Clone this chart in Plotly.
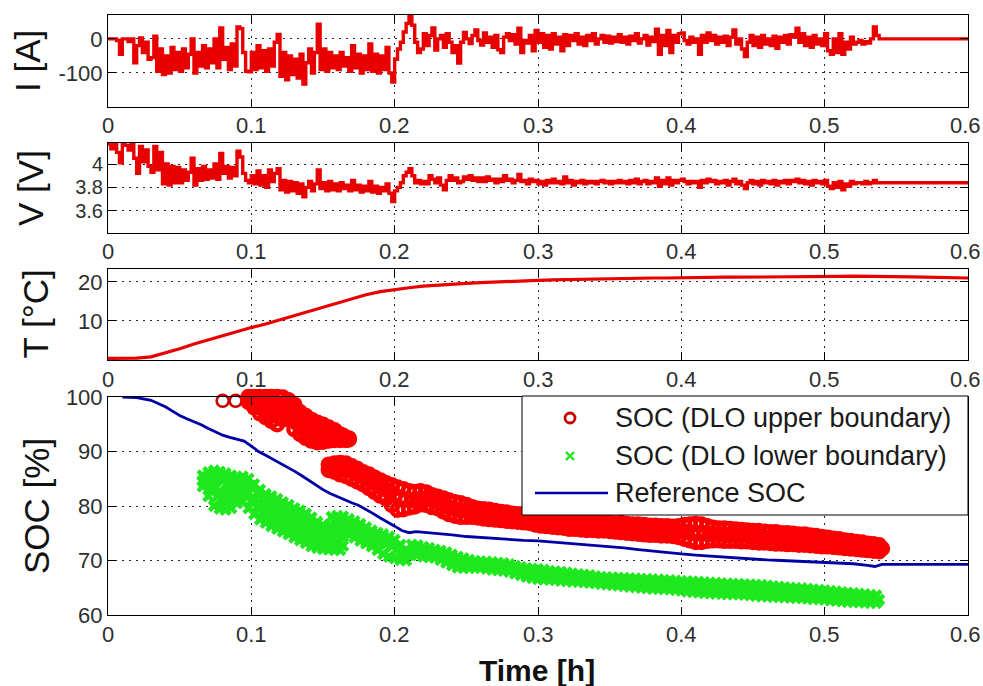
import numpy as np
import plotly.graph_objects as go

# ---------------------------------------------------------------- data
T_RANGE = [0.0, 0.6]
X_TICKS = [0.0, 0.1, 0.2, 0.3, 0.4, 0.5, 0.6]
X_TICK_TEXT = ["0", "0.1", "0.2", "0.3", "0.4", "0.5", "0.6"]

# Current and terminal voltage, sampled every 0.002 h
IV_STEP_H = 0.002
CURRENT_A = [
    0, 0, 0, -5, -45, 0, 0, -8, 0, -70,
    -20, 3, -40, -10, -60, -55, 8, -95, -30, -105,
    -50, -100, -25, -90, -40, -95, -30, -85, -45, 0,
    -100, -40, -80, -20, -85, -30, -70, 0, -85, 32,
    -60, -25, -90, -15, -80, 35, 30, -40, -95, -97,
    -40, -90, -20, -85, -35, -95, -30, -80, -10, 13,
    -110, -40, -120, -50, -105, -60, -115, -45, -133, -70,
    -30, -100, -40, 43, -90, -30, -95, -40, -85, -50,
    -90, -40, -80, -55, -95, -20, -85, -45, -100, -50,
    -90, -15, -95, -45, -100, -50, -90, -25, -100, -127,
    -60, -30, -10, 20, 45, 70, 40, -10, -40, -30,
    15, -20, 10, 32, -33, 0, 10, -25, 15, -10,
    -40, -20, -71, -10, 19, 0, -14, 10, 26, -5,
    -18, 17, -10, 5, -25, 10, -32, -40, 5, 15,
    -5, 12, -15, 31, -40, -5, -12, 10, -35, 25,
    -10, 15, -25, 10, -30, 15, -15, 5, -35, 12,
    -20, 10, -5, 15, -15, 5, -20, 10, -5, 15,
    -15, 0, 10, -10, 8, -12, 5, -8, 12, -10,
    5, -15, 8, -5, 15, -12, 0, 10, -18, 5,
    -8, 28, -45, 10, -20, 25, -40, 10, -10, 15,
    17, -5, -15, 5, -10, 0, -45, 10, -10, 17,
    -5, 10, -15, 5, -10, 8, -20, 5, 26, -15,
    0, -30, -52, -10, 10, -20, 5, -25, 10, -15,
    0, -20, 8, -28, 5, -10, 10, -15, 12, 5,
    31, -10, 15, -20, 5, -25, 10, -15, 0, -20,
    15, -35, -45, 0, -40, 15, -45, -10, -30, 5,
    -15, -10, -5, -15, -8, -12, 0, 35, 10, 0,
]
CURRENT_REST_A = 0

VOLTAGE_V = [
    4.17, 4.13, 4.17, 4.10, 4.01, 4.17, 4.16, 4.12, 4.17, 4.05,
    3.92, 4.15, 4.02, 4.12, 3.98, 3.93, 4.15, 3.95, 4.10, 3.83,
    4.00, 3.82, 3.98, 3.84, 3.97, 3.84, 3.95, 3.86, 3.93, 4.05,
    3.82, 3.96, 3.86, 3.98, 3.87, 3.95, 3.88, 4.00, 3.87, 4.09,
    3.92, 3.98, 3.88, 3.97, 3.90, 4.11, 4.06, 3.92, 3.86, 3.84,
    3.90, 3.83, 3.94, 3.82, 3.90, 3.80, 3.95, 3.85, 3.92, 3.96,
    3.78, 3.86, 3.76, 3.85, 3.77, 3.84, 3.75, 3.83, 3.72, 3.80,
    3.85, 3.77, 3.83, 3.95, 3.79, 3.84, 3.77, 3.85, 3.78, 3.83,
    3.77, 3.84, 3.79, 3.82, 3.77, 3.86, 3.78, 3.82, 3.76, 3.81,
    3.77, 3.85, 3.76, 3.81, 3.75, 3.80, 3.77, 3.83, 3.75, 3.68,
    3.77, 3.80, 3.84, 3.90, 3.93, 3.96, 3.90, 3.84, 3.86, 3.83,
    3.85, 3.83, 3.90, 3.87, 3.84, 3.88, 3.82, 3.78, 3.86, 3.90,
    3.86, 3.88, 3.84, 3.85, 3.89, 3.87, 3.90, 3.86, 3.88, 3.85,
    3.88, 3.85, 3.89, 3.86, 3.87, 3.84, 3.87, 3.85, 3.90, 3.86,
    3.87, 3.84, 3.86, 3.91, 3.85, 3.86, 3.83, 3.87, 3.85, 3.86,
    3.83, 3.85, 3.82, 3.86, 3.84, 3.87, 3.84, 3.85, 3.83, 3.89,
    3.84, 3.86, 3.82, 3.85, 3.84, 3.86, 3.83, 3.85, 3.84, 3.85,
    3.83, 3.85, 3.86, 3.84, 3.85, 3.83, 3.85, 3.84, 3.86, 3.84,
    3.85, 3.83, 3.86, 3.84, 3.87, 3.83, 3.85, 3.86, 3.83, 3.85,
    3.84, 3.88, 3.81, 3.86, 3.83, 3.88, 3.82, 3.86, 3.84, 3.86,
    3.87, 3.85, 3.83, 3.85, 3.84, 3.85, 3.80, 3.86, 3.84, 3.87,
    3.85, 3.86, 3.83, 3.85, 3.84, 3.86, 3.82, 3.85, 3.87, 3.83,
    3.85, 3.82, 3.79, 3.84, 3.86, 3.83, 3.85, 3.82, 3.86, 3.84,
    3.85, 3.83, 3.86, 3.82, 3.85, 3.84, 3.86, 3.83, 3.86, 3.85,
    3.87, 3.84, 3.86, 3.83, 3.85, 3.82, 3.86, 3.84, 3.85, 3.83,
    3.86, 3.81, 3.79, 3.84, 3.80, 3.85, 3.78, 3.83, 3.81, 3.85,
    3.83, 3.84, 3.84, 3.83, 3.85, 3.83, 3.84, 3.86, 3.84, 3.84,
]
VOLTAGE_REST_V = 3.84

# Cell temperature, every 0.01 h
TEMP_STEP_H = 0.01
TEMP_C = [
    0.4, 0.4, 0.5, 0.8, 1.8, 2.9, 4.1, 5.2, 6.3, 7.3,
    8.3, 9.2, 10.3, 11.4, 12.5, 13.6, 14.7, 15.8, 16.7, 17.5,
    18.1, 18.5, 18.9, 19.2, 19.4, 19.6, 19.8, 20.0, 20.2, 20.3,
    20.4, 20.5, 20.6, 20.7, 20.8, 20.8, 20.9, 20.9, 21.0, 21.0,
    21.1, 21.1, 21.1, 21.2, 21.2, 21.2, 21.3, 21.3, 21.3, 21.4,
    21.4, 21.4, 21.5, 21.5, 21.5, 21.4, 21.3, 21.2, 21.1, 21.0,
    21.0,
]

# Reference state of charge
SOC_REF_T = [
    0.010, 0.020, 0.030, 0.035, 0.040, 0.045, 0.050, 0.055, 0.060, 0.065,
    0.070, 0.075, 0.080, 0.085, 0.090, 0.095, 0.100, 0.105, 0.110, 0.115,
    0.120, 0.125, 0.130, 0.135, 0.140, 0.145, 0.150, 0.155, 0.160, 0.165,
    0.170, 0.175, 0.180, 0.185, 0.190, 0.195, 0.200, 0.205, 0.210, 0.215,
    0.220, 0.230, 0.240, 0.250, 0.260, 0.270, 0.280, 0.290, 0.300, 0.310,
    0.320, 0.330, 0.340, 0.350, 0.360, 0.370, 0.380, 0.390, 0.400, 0.410,
    0.420, 0.430, 0.440, 0.450, 0.460, 0.470, 0.480, 0.490, 0.500, 0.510,
    0.520, 0.530, 0.535, 0.540, 0.600,
]
SOC_REF = [
    100.0, 99.9, 99.4, 98.8, 98.2, 97.4, 96.6, 96.0, 95.5, 94.9,
    94.2, 93.6, 93.0, 92.6, 92.3, 91.9, 91.0, 90.0, 89.3, 88.6,
    87.9, 87.2, 86.4, 85.6, 84.7, 83.8, 83.0, 82.3, 81.7, 81.2,
    80.6, 80.1, 79.4, 78.6, 77.8, 77.1, 76.3, 75.5, 75.1, 75.3,
    75.2, 75.0, 74.7, 74.4, 74.2, 74.0, 73.8, 73.7, 73.6, 73.4,
    73.2, 73.0, 72.8, 72.6, 72.3, 72.0, 71.7, 71.4, 71.2, 71.0,
    70.8, 70.6, 70.4, 70.3, 70.1, 70.0, 69.9, 69.8, 69.7, 69.5,
    69.4, 69.1, 68.9, 69.3, 69.3,
]

# DLO estimates, sampled every 0.004 h. Each segment holds several sample
# runs spanning the spread of the estimate (top run first, bottom run last);
# every second run is taken half a step later.
DLO_STEP_H = 0.004

SOC_UP_EARLY_T = [0.080, 0.089]
SOC_UP_EARLY = [99.3, 99.3]

SOC_UP_A_T0 = 0.098
SOC_UP_A_RUNS = [
    [100, 100, 100, 100, 100, 100, 99.9, 99.4, 98.6, 97.2,
     96.5, 95.8, 95.3, 94.9, 94.4, 93.9, 93.1, 92.5],
    [99.8, 99.6, 99.3, 99.1, 98.9, 98.7, 98.8, 98.6, 97.5, 96.2,
     95.5, 94.9, 94.4, 94.1, 93.7, 93.4, 92.9, 92.4],
    [99.6, 99.2, 98.6, 98.2, 97.8, 97.4, 97.8, 97.9, 96.4, 95.2,
     94.6, 93.9, 93.5, 93.3, 93.1, 93.0, 92.6, 92.3],
    [99.3, 98.6, 97.8, 97.2, 96.7, 96.2, 96.8, 97.0, 95.2, 94.2,
     93.5, 92.9, 92.6, 92.5, 92.5, 92.5, 92.3, 92.2],
    [99.1, 98.1, 97.0, 96.3, 95.6, 95.0, 95.9, 96.2, 94.1, 93.2,
     92.5, 92.0, 91.7, 91.8, 92.0, 92.1, 92.1, 92.1],
]

SOC_UP_B_T0 = 0.154
SOC_UP_B_RUNS = [
    [87.6, 87.8, 87.9, 87.8, 87.3, 86.8, 86.2, 85.8, 85.2, 84.7,
     84.2, 83.8, 83.4, 83.1, 82.7, 82.6, 82.7, 82.5, 82.0, 81.7,
     81.4, 81.0, 80.7, 80.5, 80.2, 79.8, 79.5, 79.4, 79.3, 79.1,
     78.9, 78.8, 78.6, 78.5, 78.4, 78.2, 78.0, 77.7, 77.6, 77.7,
     77.6, 77.5, 77.4, 77.3, 77.4, 77.2, 77.1, 77.0, 76.9, 76.9,
     76.8, 76.9, 76.7, 76.6, 76.6, 76.5, 76.4, 76.4, 76.3, 76.3,
     76.2, 76.3, 76.5, 76.6, 76.7, 76.6, 76.3, 76.0, 75.9, 75.9,
     75.8, 75.7, 75.6, 75.5, 75.4, 75.4, 75.3, 75.2, 75.2, 75.0,
     75.0, 74.9, 74.8, 74.8, 74.6, 74.5, 74.3, 74.2, 74.0, 73.9,
     73.7, 73.6, 73.4, 73.3, 73.1, 73.0, 72.8],
    [87.1, 87.0, 86.8, 86.6, 86.1, 85.6, 85.1, 84.5, 83.9, 83.2,
     82.8, 82.0, 81.4, 81.2, 81.1, 81.2, 81.4, 81.3, 80.8, 80.6,
     80.0, 79.6, 79.3, 79.2, 79.0, 78.9, 78.7, 78.5, 78.4, 78.2,
     78.1, 78.0, 77.9, 77.8, 77.7, 77.5, 77.3, 77.1, 77.0, 77.0,
     76.9, 76.8, 76.6, 76.5, 76.5, 76.4, 76.3, 76.2, 76.2, 76.1,
     76.0, 76.0, 75.9, 75.8, 75.7, 75.6, 75.5, 75.5, 75.4, 75.4,
     75.3, 75.3, 75.2, 75.1, 75.0, 75.0, 74.9, 74.8, 74.8, 74.7,
     74.7, 74.6, 74.6, 74.5, 74.4, 74.3, 74.2, 74.2, 74.1, 74.0,
     73.9, 73.9, 73.8, 73.8, 73.7, 73.6, 73.5, 73.4, 73.2, 73.1,
     73.0, 72.9, 72.7, 72.6, 72.4, 72.3, 72.2],
    [86.6, 86.3, 85.8, 85.5, 85.0, 84.5, 84.0, 83.3, 82.6, 81.9,
     81.4, 80.2, 79.3, 79.4, 79.7, 79.9, 80.3, 80.2, 79.8, 79.6,
     79.0, 78.5, 78.2, 78.0, 78.0, 78.0, 77.9, 77.7, 77.6, 77.5,
     77.4, 77.3, 77.2, 77.1, 77.0, 76.9, 76.6, 76.4, 76.3, 76.2,
     76.1, 76.0, 75.8, 75.8, 75.7, 75.6, 75.6, 75.5, 75.5, 75.4,
     75.3, 75.2, 75.1, 75.0, 74.9, 74.8, 74.7, 74.7, 74.6, 74.6,
     74.5, 74.3, 74.0, 73.7, 73.4, 73.4, 73.6, 73.7, 73.7, 73.6,
     73.6, 73.6, 73.5, 73.5, 73.4, 73.3, 73.3, 73.2, 73.1, 73.1,
     73.0, 73.0, 72.9, 72.9, 72.8, 72.7, 72.6, 72.6, 72.5, 72.4,
     72.3, 72.2, 72.1, 72.0, 71.9, 71.8, 71.7],
]

SOC_LO_A_T0 = 0.066
SOC_LO_A_RUNS = [
    [85.6, 86.2, 86.5, 86.3, 86.0, 85.6, 85.3, 85.4, 85.0, 84.0,
     83.0, 82.2, 81.8, 81.3, 80.7, 80.2, 79.6, 79.2, 78.6, 77.9,
     77.1, 76.5, 76.0, 75.6, 75.2],
    [85.1, 85.2, 84.8, 84.6, 84.2, 84.0, 84.2, 84.1, 83.7, 82.5,
     81.6, 80.9, 80.3, 79.9, 79.4, 78.8, 78.2, 77.8, 77.2, 76.6,
     75.9, 75.4, 75.0, 74.7, 74.4],
    [84.6, 84.0, 83.3, 82.8, 82.6, 82.6, 82.9, 83.0, 82.3, 81.2,
     80.3, 79.5, 79.0, 78.5, 78.0, 77.5, 76.9, 76.4, 75.9, 75.2,
     74.7, 74.3, 74.0, 73.7, 73.5],
    [84.1, 82.9, 81.7, 81.1, 81.0, 81.1, 81.7, 81.9, 81.0, 79.9,
     78.9, 78.2, 77.7, 77.2, 76.7, 76.2, 75.6, 75.1, 74.6, 73.9,
     73.5, 73.2, 73.0, 72.8, 72.7],
    [83.6, 81.8, 80.0, 79.5, 79.3, 79.6, 80.5, 80.8, 79.6, 78.5,
     77.5, 76.9, 76.3, 75.8, 75.3, 74.8, 74.2, 73.7, 73.2, 72.6,
     72.3, 72.1, 72.0, 71.9, 71.9],
]

SOC_LO_B_T0 = 0.156
SOC_LO_B_RUNS = [
    [78.0, 78.2, 78.1, 77.6, 77.2, 76.7, 76.1, 75.5, 75.1, 74.8,
     74.4, 73.8, 72.9, 72.0],
    [77.2, 77.0, 76.6, 76.1, 75.7, 75.2, 74.6, 74.0, 73.5, 73.0,
     72.6, 72.1, 71.5, 71.0],
    [76.4, 75.9, 75.2, 74.7, 74.2, 73.6, 73.1, 72.6, 71.9, 71.2,
     70.7, 70.4, 70.1, 70.0],
]

SOC_LO_C_T0 = 0.212
SOC_LO_C_RUNS = [
    [72.9, 72.8, 72.5, 72.3, 72.0, 71.8, 71.5, 71.1, 70.7, 70.4,
     70.1, 69.9, 69.8, 69.8, 69.7, 69.6, 69.5, 69.3, 69.0, 68.8,
     68.6, 68.5, 68.4, 68.3, 68.1, 68.0, 67.9, 67.8, 67.6, 67.5,
     67.4, 67.3, 67.1, 67.0, 66.9, 66.9, 66.8, 66.8, 66.7, 66.7,
     66.6, 66.6, 66.5, 66.5, 66.4, 66.4, 66.3, 66.2, 66.2, 66.1,
     66.1, 66.0, 65.9, 65.9, 65.8, 65.8, 65.7, 65.7, 65.6, 65.6,
     65.5, 65.5, 65.4, 65.3, 65.2, 65.1, 65.0, 64.9, 64.9, 64.8,
     64.7, 64.6, 64.5, 64.4, 64.3, 64.2, 64.1, 64.0, 63.9, 63.8,
     63.7, 63.6],
    [72.2, 71.9, 71.6, 71.4, 71.2, 70.9, 70.5, 70.1, 69.7, 69.5,
     69.4, 69.3, 69.2, 69.1, 69.0, 68.9, 68.8, 68.6, 68.3, 68.1,
     67.8, 67.6, 67.5, 67.4, 67.3, 67.2, 67.1, 67.0, 66.9, 66.8,
     66.7, 66.6, 66.5, 66.4, 66.3, 66.2, 66.1, 66.0, 66.0, 65.9,
     65.8, 65.7, 65.6, 65.6, 65.5, 65.5, 65.4, 65.3, 65.2, 65.1,
     65.0, 65.0, 64.9, 64.8, 64.8, 64.7, 64.7, 64.7, 64.6, 64.5,
     64.4, 64.3, 64.3, 64.2, 64.1, 64.1, 64.0, 64.0, 63.9, 63.9,
     63.8, 63.7, 63.6, 63.5, 63.4, 63.3, 63.2, 63.1, 63.0, 62.9,
     62.9, 62.8],
    [71.5, 71.0, 70.7, 70.6, 70.5, 70.1, 69.6, 69.1, 68.7, 68.6,
     68.6, 68.7, 68.6, 68.5, 68.3, 68.2, 68.1, 67.9, 67.6, 67.3,
     67.0, 66.8, 66.6, 66.5, 66.5, 66.4, 66.3, 66.2, 66.1, 66.1,
     66.0, 65.9, 65.8, 65.7, 65.6, 65.5, 65.4, 65.3, 65.2, 65.1,
     65.0, 64.9, 64.8, 64.8, 64.7, 64.7, 64.6, 64.5, 64.3, 64.2,
     64.1, 64.0, 64.0, 63.9, 63.9, 63.8, 63.8, 63.8, 63.7, 63.6,
     63.5, 63.4, 63.4, 63.3, 63.3, 63.2, 63.2, 63.1, 63.1, 63.0,
     62.9, 62.9, 62.8, 62.7, 62.6, 62.5, 62.4, 62.4, 62.3, 62.3,
     62.2, 62.2],
]

# ---------------------------------------------------------------- helpers
W, H = 983, 686
FONT = "Liberation Sans, Arial, Helvetica, sans-serif"
RED_LINE = "rgb(232,0,0)"
RED_MARK = "rgb(250,0,0)"
GREEN_MARK = "rgb(30,232,30)"
BLUE_LINE = "rgb(0,0,165)"
TICK_COLOR = "#2e2e2e"


def fx(px):
    return px / W


def fy(py):
    return 1 - py / H


def sampled(t0, step, runs):
    """Stack the sample runs of one estimate segment."""
    xs, ys = [], []
    for k, run in enumerate(runs):
        base = t0 + step * np.arange(len(run)) + (step / 2 if k % 2 else 0.0)
        xs.append(base)
        ys.append(np.asarray(run, dtype=float))
    return np.concatenate(xs), np.concatenate(ys)


t_cur = np.append(IV_STEP_H * np.arange(len(CURRENT_A)), T_RANGE[1])
i_cur = np.append(np.asarray(CURRENT_A, float), CURRENT_REST_A)
t_vol = np.append(IV_STEP_H * np.arange(len(VOLTAGE_V)), T_RANGE[1])
v_vol = np.append(np.asarray(VOLTAGE_V, float), VOLTAGE_REST_V)
t_temp = TEMP_STEP_H * np.arange(len(TEMP_C))

up_a = sampled(SOC_UP_A_T0, DLO_STEP_H, SOC_UP_A_RUNS)
up_b = sampled(SOC_UP_B_T0, DLO_STEP_H, SOC_UP_B_RUNS)
up_t = np.concatenate([up_a[0], up_b[0]])
up_v = np.concatenate([up_a[1], up_b[1]])

lo_a = sampled(SOC_LO_A_T0, DLO_STEP_H, SOC_LO_A_RUNS)
lo_b = sampled(SOC_LO_B_T0, DLO_STEP_H, SOC_LO_B_RUNS)
lo_c = sampled(SOC_LO_C_T0, DLO_STEP_H, SOC_LO_C_RUNS)
lo_t = np.concatenate([lo_a[0], lo_b[0], lo_c[0]])
lo_v = np.concatenate([lo_a[1], lo_b[1], lo_c[1]])

# ---------------------------------------------------------------- figure
fig = go.Figure()

fig.add_trace(go.Scatter(x=t_cur, y=i_cur, mode="lines", line_shape="hv",
                         line=dict(color=RED_LINE, width=3.4),
                         xaxis="x", yaxis="y", showlegend=False))
fig.add_trace(go.Scatter(x=t_vol, y=v_vol, mode="lines", line_shape="hv",
                         line=dict(color=RED_LINE, width=3.4),
                         xaxis="x2", yaxis="y2", showlegend=False))
fig.add_trace(go.Scatter(x=t_temp, y=TEMP_C, mode="lines",
                         line=dict(color=RED_LINE, width=3.2),
                         xaxis="x3", yaxis="y3", showlegend=False))
# isolated early estimates: plain rings
fig.add_trace(go.Scatter(x=SOC_UP_EARLY_T, y=SOC_UP_EARLY, mode="markers",
                         cliponaxis=False,
                         marker=dict(symbol="circle-open", size=12, color="rgb(200,0,0)",
                                     line=dict(width=2.6, color="rgb(200,0,0)")),
                         xaxis="x4", yaxis="y4", showlegend=False))
fig.add_trace(go.Scatter(x=up_t, y=up_v, mode="markers", cliponaxis=False,
                         marker=dict(symbol="circle-open", size=12, color=RED_MARK,
                                     line=dict(width=4.4, color=RED_MARK)),
                         xaxis="x4", yaxis="y4", showlegend=False))
fig.add_trace(go.Scatter(x=lo_t, y=lo_v, mode="markers", cliponaxis=False,
                         marker=dict(symbol="x", size=11, color=GREEN_MARK,
                                     line=dict(width=0)),
                         xaxis="x4", yaxis="y4", showlegend=False))
fig.add_trace(go.Scatter(x=SOC_REF_T, y=SOC_REF, mode="lines",
                         line=dict(color=BLUE_LINE, width=2.8),
                         xaxis="x4", yaxis="y4", showlegend=False))

# panel boxes in pixels: (top, bottom)
X_LEFT, X_RIGHT = 108, 968
PANELS = [(15, 107), (143, 233), (269, 360), (397, 615)]
Y_SETUP = [
    dict(range=[-200, 70], tickvals=[-100, 0], ticktext=["-100", "0"]),
    dict(range=[3.41, 4.18], tickvals=[3.6, 3.8, 4.0], ticktext=["3.6", "3.8", "4"]),
    dict(range=[0, 23.3], tickvals=[10, 20], ticktext=["10", "20"]),
    dict(range=[60, 100], tickvals=[60, 70, 80, 90, 100],
         ticktext=["60", "70", "80", "90", "100"]),
]
Y_TICK_SIZE = [22, 20, 22, 22]

common = dict(
    showline=True, linecolor="black", linewidth=1, mirror="ticks",
    ticks="inside", ticklen=8, tickcolor="black", tickwidth=1,
    showgrid=True, gridcolor="rgba(0,0,0,0.85)", gridwidth=1, griddash="2px,5px",
    zeroline=False, fixedrange=True, automargin=False,
)

layout_axes = {}
for n, ((top, bottom), ys, ysz) in enumerate(zip(PANELS, Y_SETUP, Y_TICK_SIZE), start=1):
    sfx = "" if n == 1 else str(n)
    layout_axes["xaxis" + sfx] = dict(
        common, domain=[fx(X_LEFT), fx(X_RIGHT)], anchor="y" + sfx,
        range=T_RANGE, tickvals=X_TICKS, showticklabels=False,
    )
    layout_axes["yaxis" + sfx] = dict(
        common, domain=[fy(bottom), fy(top)], anchor="x" + sfx,
        tickfont=dict(family=FONT, size=ysz, color=TICK_COLOR), **ys,
    )

fig.update_layout(
    width=W, height=H, margin=dict(l=0, r=0, t=0, b=0, autoexpand=False),
    paper_bgcolor="white", plot_bgcolor="white",
    showlegend=False, **layout_axes,
)

# time tick labels under every panel, placed on each panel's own x axis
for n, (top, bottom) in enumerate(PANELS, start=1):
    xref = "x" if n == 1 else "x%d" % n
    for v, txt in zip(X_TICKS, X_TICK_TEXT):
        fig.add_annotation(x=v, xref=xref, y=fy(bottom + 19), yref="paper",
                           text=txt, showarrow=False,
                           xanchor="right" if v == X_TICKS[-1] else "center",
                           xshift=15 if v == X_TICKS[-1] else 0,
                           yanchor="middle",
                           font=dict(family=FONT, size=22, color=TICK_COLOR))

# axis titles
label_font = dict(family=FONT, size=35, color="#111111")
for text, cx, (top, bottom) in [("I [A]", 27, PANELS[0]), ("V [V]", 31, PANELS[1]),
                                ("T [°C]", 35, PANELS[2]), ("SOC [%]", 36, PANELS[3])]:
    fig.add_annotation(x=fx(cx), y=fy((top + bottom) / 2), xref="paper", yref="paper",
                       text=text, textangle=-90, showarrow=False,
                       xanchor="center", yanchor="middle", font=label_font)
fig.add_annotation(x=fx(537), y=fy(670), xref="paper", yref="paper",
                   text="<b>Time [h]</b>", showarrow=False,
                   xanchor="center", yanchor="middle",
                   font=dict(family=FONT, size=30, color="#111111"))

# legend box with its key glyphs
LEG = dict(x0=522, x1=968, y0=396, y1=515)
fig.add_shape(type="rect", xref="paper", yref="paper", layer="above",
              x0=fx(LEG["x0"]), x1=fx(LEG["x1"]), y0=fy(LEG["y1"]), y1=fy(LEG["y0"]),
              fillcolor="white", line=dict(color="black", width=1))
rows = [418, 456, 493]
fig.add_shape(type="circle", xref="paper", yref="paper", layer="above",
              x0=fx(565), x1=fx(575), y0=fy(rows[0] + 5), y1=fy(rows[0] - 5),
              line=dict(color="rgb(200,0,0)", width=2.8))
for (xa, ya, xb, yb) in [(566, rows[1] - 4, 574, rows[1] + 4),
                         (566, rows[1] + 4, 574, rows[1] - 4)]:
    fig.add_shape(type="line", xref="paper", yref="paper", layer="above",
                  x0=fx(xa), y0=fy(ya), x1=fx(xb), y1=fy(yb),
                  line=dict(color=GREEN_MARK, width=2.4))
fig.add_shape(type="line", xref="paper", yref="paper", layer="above",
              x0=fx(535), x1=fx(608), y0=fy(rows[2]), y1=fy(rows[2]),
              line=dict(color=BLUE_LINE, width=2.6))
for text, ry in zip(["SOC (DLO upper boundary)", "SOC (DLO lower boundary)",
                     "Reference SOC"], rows):
    fig.add_annotation(x=fx(613), y=fy(ry), xref="paper", yref="paper",
                       text=text, showarrow=False, xanchor="left", yanchor="middle",
                       font=dict(family=FONT, size=27, color="#1a1a1a"))

fig.write_html("out.html")
